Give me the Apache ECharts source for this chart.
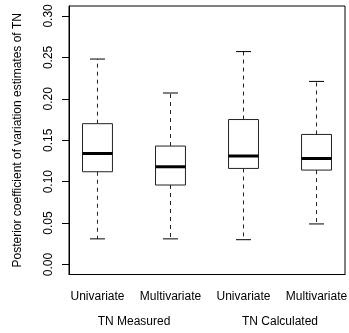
<!DOCTYPE html>
<html>
<head>
<meta charset="utf-8">
<script src="https://cdn.jsdelivr.net/npm/echarts@6/dist/echarts.min.js"></script>
<style>
html,body{margin:0;padding:0;background:#fff;}
#chart{width:349px;height:333px;}
</style>
</head>
<body>
<div id="chart"></div>
<script>
const categories = ['Univariate', 'Multivariate', 'Univariate', 'Multivariate'];
const categoryPositions = [1, 2, 3, 4];
const groups = ['TN Measured', 'TN Calculated'];
const groupPositions = [1.5, 3.5];
const whiskerLow = [0.031, 0.031, 0.030, 0.049];
const q1 = [0.112, 0.096, 0.116, 0.114];
const median = [0.134, 0.118, 0.131, 0.128];
const q3 = [0.170, 0.143, 0.175, 0.157];
const whiskerHigh = [0.248, 0.207, 0.257, 0.221];
const yTicks = [0, 0.05, 0.10, 0.15, 0.20, 0.25, 0.30];
const yTitle = 'Posterior coefficient of variation estimates of TN';

const FONT = 'Liberation Sans, Arial, Helvetica, sans-serif';
const data = categoryPositions.map((x, i) => [x, whiskerLow[i], q1[i], median[i], q3[i], whiskerHigh[i]]);

const chart = echarts.init(document.getElementById('chart'), null, {renderer: 'canvas'});
chart.setOption({
  animation: false,
  backgroundColor: '#fff',
  grid: {left: 69, right: 4, top: 6, bottom: 58.5, show: true, borderColor: '#000', borderWidth: 1, outerBoundsMode: 'none', containLabel: false},
  xAxis: [{
    type: 'value', min: 0.61, max: 4.39, position: 'bottom',
    axisLine: {show: true, onZero: false, lineStyle: {color: '#000', width: 1}},
    axisTick: {show: false},
    splitLine: {show: false},
    axisLabel: {customValues: categoryPositions, margin: 16, color: '#000', fontSize: 12, fontFamily: FONT,
      formatter: v => categories[categoryPositions.indexOf(Math.round(v))] || ''}
  }, {
    type: 'value', min: 0.61, max: 4.39, position: 'bottom',
    axisLine: {show: false}, axisTick: {show: false}, splitLine: {show: false},
    axisLabel: {customValues: groupPositions, margin: 41, color: '#000', fontSize: 12, fontFamily: FONT,
      formatter: v => groups[groupPositions.indexOf(v)] || ''}
  }],
  yAxis: {
    type: 'value', min: -0.012, max: 0.312,
    name: yTitle, nameLocation: 'middle', nameGap: 45,
    nameTextStyle: {color: '#000', fontSize: 12, fontFamily: FONT},
    axisLine: {show: true, onZero: false, lineStyle: {color: '#000', width: 1}},
    axisTick: {show: true, customValues: yTicks, length: 7, inside: false, lineStyle: {color: '#000'}},
    splitLine: {show: false},
    axisLabel: {customValues: yTicks, rotate: 90, margin: 14, color: '#000', fontSize: 12, fontFamily: FONT,
      formatter: v => v.toFixed(2)}
  },
  series: [{
    type: 'custom',
    xAxisIndex: 0,
    data: data,
    encode: {x: 0, y: [1, 2, 3, 4, 5]},
    renderItem: function (params, api) {
      const x = api.value(0);
      const pLo = api.coord([x, api.value(1)]);
      const pQ1 = api.coord([x, api.value(2)]);
      const pMd = api.coord([x, api.value(3)]);
      const pQ3 = api.coord([x, api.value(4)]);
      const pHi = api.coord([x, api.value(5)]);
      const bw = api.size([0.41, 0])[0];
      const cx = pMd[0];
      const half = bw / 2;
      const cap = bw / 4;
      const lineCol = '#222';
      return {
        type: 'group',
        children: [
          {type: 'line', shape: {x1: cx, y1: pQ3[1], x2: cx, y2: pHi[1]}, style: {stroke: lineCol, lineWidth: 1, lineDash: [4, 4]}},
          {type: 'line', shape: {x1: cx, y1: pQ1[1], x2: cx, y2: pLo[1]}, style: {stroke: lineCol, lineWidth: 1, lineDash: [4, 4]}},
          {type: 'line', shape: {x1: cx - cap, y1: pHi[1], x2: cx + cap, y2: pHi[1]}, style: {stroke: '#000', lineWidth: 1}},
          {type: 'line', shape: {x1: cx - cap, y1: pLo[1], x2: cx + cap, y2: pLo[1]}, style: {stroke: '#000', lineWidth: 1}},
          {type: 'rect', shape: {x: cx - half, y: pQ3[1], width: bw, height: pQ1[1] - pQ3[1]}, style: {fill: '#fff', stroke: lineCol, lineWidth: 1}},
          {type: 'line', shape: {x1: cx - half, y1: pMd[1], x2: cx + half, y2: pMd[1]}, style: {stroke: '#000', lineWidth: 3}}
        ]
      };
    }
  }]
});
</script>
</body>
</html>
